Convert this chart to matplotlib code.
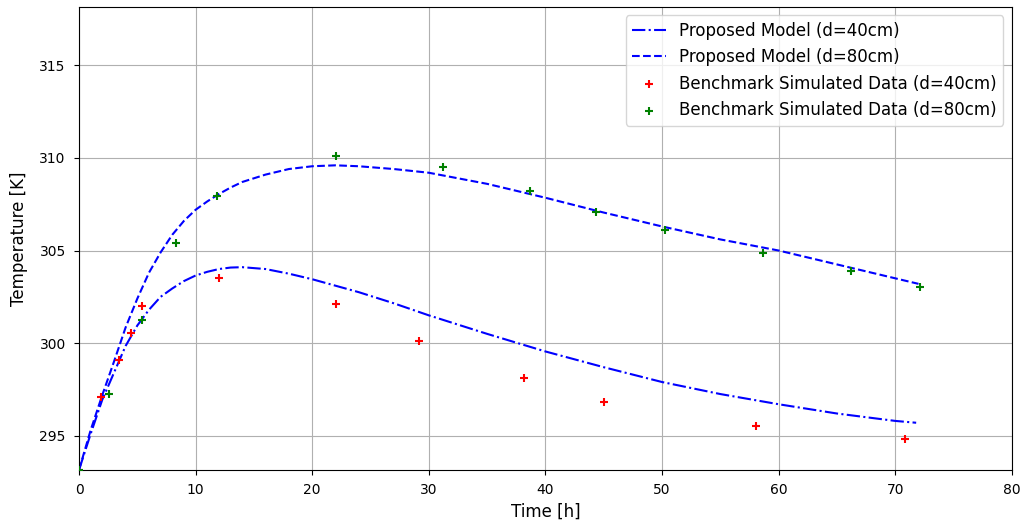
import matplotlib
matplotlib.use("Agg")
import matplotlib.pyplot as plt

# model curves
t_model_80 = [0, 1, 2, 3, 4, 5, 6, 7, 8, 9, 10, 11, 12, 13, 14, 16, 18, 20, 22, 24,
              27, 30, 35, 40, 45, 50, 55, 60, 65, 70, 72]
T_model_80 = [293.15, 295.3, 297.2, 299.0, 300.85, 302.4, 303.8, 304.9, 305.85,
              306.6, 307.2, 307.65, 308.05, 308.4, 308.7, 309.1, 309.4, 309.55,
              309.6, 309.55, 309.4, 309.2, 308.6, 307.85, 307.05, 306.3, 305.6,
              305.0, 304.25, 303.5, 303.2]

t_model_40 = [0, 1, 2, 3, 4, 5, 6, 7, 8, 9, 10, 11, 12, 13, 14, 16, 18, 20, 22, 24,
              27, 30, 35, 40, 45, 50, 55, 60, 65, 70, 71.8]
T_model_40 = [293.15, 295.1, 296.95, 298.4, 299.85, 300.95, 301.8, 302.5, 302.95,
              303.35, 303.65, 303.85, 304.0, 304.08, 304.1, 304.0, 303.75, 303.45,
              303.1, 302.75, 302.15, 301.5, 300.5, 299.55, 298.7, 297.9, 297.25,
              296.7, 296.2, 295.8, 295.7]

# benchmark simulated points
t_bench_40 = [0, 1.9, 3.4, 4.5, 5.4, 12.0, 22.0, 29.2, 38.2, 45.0, 58.1, 70.8]
T_bench_40 = [293.15, 297.1, 299.1, 300.55, 302.0, 303.5, 302.1, 300.1, 298.1,
              296.8, 295.5, 294.8]

t_bench_80 = [0, 2.6, 5.4, 8.3, 11.85, 22.0, 31.2, 38.7, 44.3, 50.3, 58.7, 66.2, 72.1]
T_bench_80 = [293.15, 297.27, 301.27, 305.38, 307.97, 310.1, 309.5, 308.2, 307.1,
              306.1, 304.85, 303.9, 303.05]

fig, ax = plt.subplots(figsize=(10.22, 5.25), dpi=100)
fig.subplots_adjust(left=0.0773, right=0.990, top=0.9867, bottom=0.1048)

ax.plot(t_model_40, T_model_40, color="blue", ls="-.", lw=1.5,
        label="Proposed Model (d=40cm)")
ax.plot(t_model_80, T_model_80, color="blue", ls="--", lw=1.5,
        label="Proposed Model (d=80cm)")
ax.scatter(t_bench_40, T_bench_40, marker="+", color="red",
           label="Benchmark Simulated Data (d=40cm)", zorder=3)
ax.scatter(t_bench_80, T_bench_80, marker="+", color="green",
           label="Benchmark Simulated Data (d=80cm)", zorder=3)

ax.set_xlim(0, 80)
ax.set_ylim(293.15, 318.15)
ax.tick_params(axis="both", pad=6)
ax.set_xlabel("Time [h]", fontsize=12)
ax.set_ylabel("Temperature [K]", fontsize=12, labelpad=8)
ax.grid(True)
ax.legend(loc="upper right", fontsize=12)

fig.savefig("out.png", dpi=100)
